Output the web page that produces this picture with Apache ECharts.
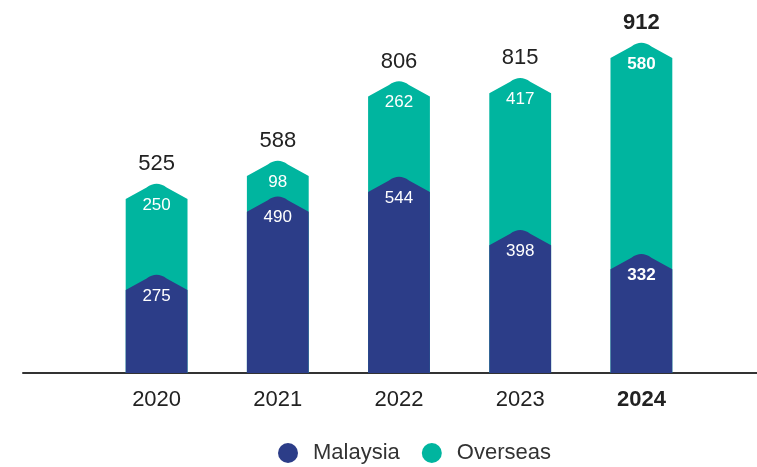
<!DOCTYPE html>
<html>
<head>
<meta charset="utf-8">
<script src="https://cdn.jsdelivr.net/npm/echarts@6/dist/echarts.min.js"></script>
<style>
  html, body { margin: 0; padding: 0; background: #fff; }
  #chart { width: 757px; height: 467px; }
</style>
</head>
<body>
<div id="chart"></div>
<script>
const years = ['2020', '2021', '2022', '2023', '2024'];
const malaysia = [275, 490, 544, 398, 332];
const overseas = [250, 98, 262, 417, 580];
const totals = malaysia.map((v, i) => v + overseas[i]);

const NAVY = '#2c3d88';
const TEAL = '#00b59f';
const FONT = 'Liberation Sans, Arial, sans-serif';

// bar with a pointed, rounded roof; value sits at the peak
function roofBar(color, labelArr, showTotal) {
  return function (params, api) {
    const idx = api.value(0);
    const val = api.value(1);
    const top = api.coord([idx, val]);
    const base = api.coord([idx, 0]);
    const w = api.size([1, 0])[0] * 0.51;
    const x0 = top[0] - w / 2, x1 = top[0] + w / 2, xc = top[0];
    const yp = top[1], ys = yp + 17, yb = base[1];
    const r = 10;
    const k = 17 * r / (w / 2);
    const path = 'M' + x0 + ',' + yb + 'L' + x0 + ',' + ys +
      'L' + (xc - r) + ',' + (yp + k) +
      'Q' + xc + ',' + (yp - 2) + ' ' + (xc + r) + ',' + (yp + k) +
      'L' + x1 + ',' + ys + 'L' + x1 + ',' + yb + 'Z';
    const bold = idx === 4 ? 'bold ' : '';
    const children = [
      { type: 'path', shape: { pathData: path }, style: { fill: color } },
      {
        type: 'text',
        style: {
          text: String(labelArr[idx]), x: xc, y: yp + 23,
          fill: '#fff', font: bold + '17px ' + FONT,
          align: 'center', verticalAlign: 'middle'
        }
      }
    ];
    if (showTotal) {
      children.push({
        type: 'text',
        style: {
          text: String(totals[idx]), x: xc, y: yp - 18,
          fill: '#222', font: bold + '22px ' + FONT,
          align: 'center', verticalAlign: 'middle'
        }
      });
    }
    return { type: 'group', children: children };
  };
}

const chart = echarts.init(document.getElementById('chart'));
chart.setOption({
  animation: false,
  legend: {
    data: ['Malaysia', 'Overseas'],
    top: 437,
    left: 273,
    icon: 'circle',
    itemWidth: 20,
    itemHeight: 20,
    itemGap: 22,
    textStyle: { fontSize: 22, color: '#333', fontFamily: FONT, padding: [0, 0, 0, 10] }
  },
  grid: [
    { left: 96, right: 55, top: 9, bottom: 94 },
    { left: 23, right: 0, top: 9, bottom: 94 }
  ],
  xAxis: [
    {
      type: 'category',
      data: years,
      gridIndex: 0,
      axisLine: { show: false },
      axisTick: { show: false },
      axisLabel: {
        margin: 16,
        fontSize: 22,
        color: '#222',
        fontFamily: FONT,
        formatter: (v) => (v === '2024' ? '{b|' + v + '}' : v),
        rich: { b: { fontWeight: 'bold', fontSize: 22, color: '#222', fontFamily: FONT } }
      }
    },
    {
      type: 'value',
      gridIndex: 1,
      axisLine: { show: true, onZero: false, lineStyle: { color: '#333', width: 2 } },
      axisTick: { show: false },
      axisLabel: { show: false },
      splitLine: { show: false }
    }
  ],
  yAxis: [
    { type: 'value', min: 0, max: 1000, gridIndex: 0, show: false },
    { type: 'value', gridIndex: 1, show: false }
  ],
  series: [
    {
      name: 'Overseas',
      type: 'custom',
      itemStyle: { color: TEAL },
      renderItem: roofBar(TEAL, overseas, true),
      data: totals.map((t, i) => [i, t])
    },
    {
      name: 'Malaysia',
      type: 'custom',
      itemStyle: { color: NAVY },
      renderItem: roofBar(NAVY, malaysia, false),
      data: malaysia.map((m, i) => [i, m])
    }
  ]
});
</script>
</body>
</html>
